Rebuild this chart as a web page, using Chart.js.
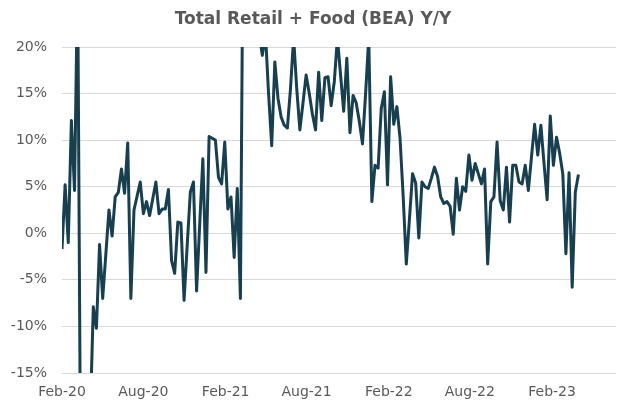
<!DOCTYPE html>
<html>
<head>
<meta charset="utf-8">
<script src="https://cdn.jsdelivr.net/npm/chart.js@4/dist/chart.umd.min.js"></script>
<style>
  body { margin: 0; background: #fff; }
  #wrap { width: 630px; height: 406px; }
</style>
</head>
<body>
<div id="wrap"><canvas id="myChart" width="630" height="406"></canvas></div>
<script>
// weekly Y/Y change, % (first week = Feb-20)
const yoy = [
  -1.7, 5.2, -1.0, 12.1, 4.6, 28, -29, -28, -25, -20,
  -7.9, -10.2, -1.2, -7.0, -2.3, 2.5, -0.3, 3.9, 4.4, 6.9,
  4.3, 9.7, -7.0, 2.5, 4.0, 5.5, 2.1, 3.4, 1.9, 3.7,
  5.5, 2.1, 2.6, 2.6, 4.7, -2.9, -4.3, 1.2, 1.1, -7.2,
  -1.3, 4.4, 5.5, -6.2, 1.0, 8.0, -4.2, 10.4, 10.2, 10.0,
  6.0, 5.3, 9.8, 2.6, 3.9, -2.6, 4.8, -7.0, 40, 45,
  38, 30, 25, 21.5, 19.1, 21.5, 15, 9.4, 18.4, 14.5,
  12.5, 11.6, 11.3, 15.5, 21, 15.5, 11.1, 14, 17.0, 15.0,
  12.8, 11.1, 17.3, 12.1, 16.7, 16.8, 13.7, 16.3, 21, 17,
  13.1, 18.8, 10.8, 14.8, 14.0, 12.0, 9.6, 15, 21, 3.4,
  7.3, 7.0, 13.4, 15.2, 5.2, 16.8, 11.7, 13.6, 10.2, 4.0,
  -3.3, 1.5, 6.4, 5.4, -0.5, 5.5, 5.0, 4.8, 5.9, 7.1,
  6.1, 3.9, 3.2, 3.4, 2.9, -0.1, 5.9, 2.5, 5.0, 4.5,
  8.4, 5.7, 7.5, 6.4, 5.3, 6.9, -3.3, 3.4, 3.9, 9.8,
  3.5, 2.5, 7.1, 1.2, 7.3, 7.3, 5.5, 5.3, 7.3, 4.6,
  8.2, 11.7, 8.4, 11.6, 7.5, 3.6, 12.6, 7.3, 10.3, 8.6,
  6.4, -2.2, 6.5, -5.8, 4.4, 6.3
];

// x tick labels and where they fall (weeks after Feb-20)
const tickText = ['Feb-20', 'Aug-20', 'Feb-21', 'Aug-21', 'Feb-22', 'Aug-22', 'Feb-23'];
const tickWeeks = [0, 26, 52.29, 78.14, 104.43, 130.29, 156.57];
const lastWeek = 177;

const yTicks = [-15, -10, -5, 0, 5, 10, 15, 20];

const points = yoy.map((v, i) => ({ x: i, y: v }));

Chart.defaults.font.family = 'DejaVu Sans';
Chart.defaults.color = '#595959';

const ctx = document.getElementById('myChart').getContext('2d');

const chart = new Chart(ctx, {
    type: 'line',
    data: {
        datasets: [{
            label: 'Total Retail + Food (BEA) Y/Y',
            data: points,
            borderColor: '#173f4f',
            borderWidth: 3,
            borderJoinStyle: 'round',
            pointRadius: 0,
            tension: 0,
            fill: false
        }]
    },
    options: {
        responsive: false,
        animation: false,
        layout: { padding: { left: 10, right: 14, bottom: 0, top: 0 } },
        plugins: {
            legend: { display: false },
            tooltip: { enabled: false },
            title: {
                display: true,
                text: 'Total Retail + Food (BEA) Y/Y',
                font: { size: 17, weight: 'bold' },
                color: '#595959',
                padding: { top: 9.5, bottom: 17.1 }
            }
        },
        scales: {
            x: {
                type: 'linear',
                min: 0,
                max: lastWeek,
                grid: { display: false, drawTicks: false },
                border: { display: false },
                afterBuildTicks: (axis) => {
                    axis.ticks = tickWeeks.map(w => ({ value: w }));
                },
                afterFit: (axis) => {
                    axis.height = 33;
                    axis.paddingLeft = 0;
                    axis.paddingRight = 0;
                },
                ticks: {
                    autoSkip: false,
                    maxRotation: 0,
                    padding: 11,
                    font: { size: 14 },
                    callback: (value) => tickText[tickWeeks.indexOf(value)]
                }
            },
            y: {
                min: -15,
                max: 20,
                grid: { color: '#d9d9d9', lineWidth: 1, drawTicks: false },
                border: { display: false },
                afterBuildTicks: (axis) => {
                    axis.ticks = yTicks.map(v => ({ value: v }));
                },
                afterFit: (axis) => {
                    axis.width = 52;
                    axis.paddingTop = 0;
                    axis.paddingBottom = 0;
                },
                ticks: {
                    padding: 15,
                    font: { size: 14 },
                    callback: (value) => value + '%'
                }
            }
        }
    }
});
</script>
</body>
</html>
